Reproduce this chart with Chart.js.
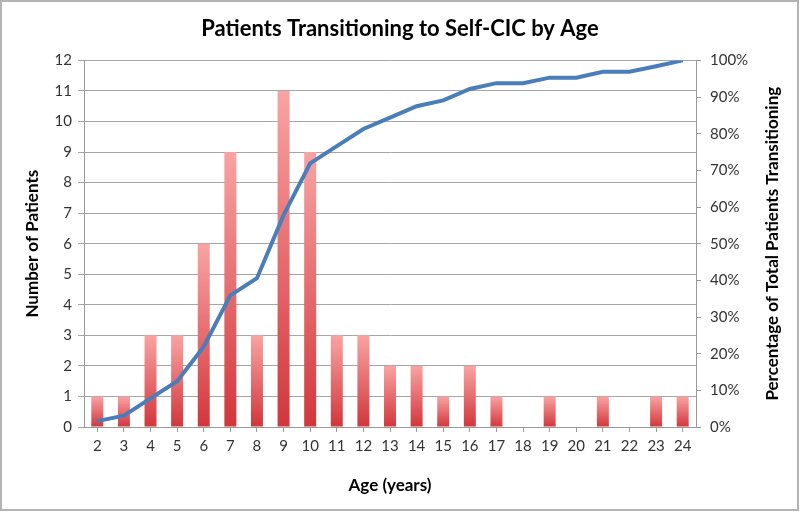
<!DOCTYPE html>
<html>
<head>
<meta charset="utf-8">
<script src="https://cdn.jsdelivr.net/npm/chart.js@4/dist/chart.umd.min.js"></script>
<style>
  html, body { margin: 0; padding: 0; background: #fff; }
  #wrap { width: 800px; height: 513px; position: relative; }
</style>
</head>
<body>
<div id="wrap"><canvas id="chart" width="800" height="513"></canvas></div>
<script>
// data
const ages = ['2', '3', '4', '5', '6', '7', '8', '9', '10', '11', '12', '13', '14', '15', '16', '17', '18', '19', '20', '21', '22', '23', '24'];
const patients = [1, 1, 3, 3, 6, 9, 3, 11, 9, 3, 3, 2, 2, 1, 2, 1, 0, 1, 0, 1, 0, 1, 1];
const cumulativePct = [1.6, 3.1, 7.8, 12.5, 21.9, 35.9, 40.6, 57.8, 71.9, 76.6, 81.3, 84.4, 87.5, 89.1, 92.2, 93.8, 93.8, 95.3, 95.3, 96.9, 96.9, 98.4, 100];
const leftTicks = [0, 1, 2, 3, 4, 5, 6, 7, 8, 9, 10, 11, 12];
const rightTicks = [0, 10, 20, 30, 40, 50, 60, 70, 80, 90, 100];
const rightTitle = 'Percentage of Total Patients Transitioning';

const FONT = 'Lato, "Open Sans", sans-serif';
const ctx = document.getElementById('chart');

// each bar gets its own pink-to-red gradient
function barFill(context) {
    const chart = context.chart;
    const yScale = chart.scales.y;
    if (!chart.chartArea || !yScale || context.parsed == null) return '#e05a5e';
    const top = yScale.getPixelForValue(context.parsed.y);
    const base = yScale.getPixelForValue(0);
    if (!isFinite(top) || top === base) return '#e05a5e';
    const g = chart.ctx.createLinearGradient(0, top, 0, base);
    g.addColorStop(0, '#f9a3a3');
    g.addColorStop(1, '#d2363b');
    return g;
}

// white background, grey frame, and the right axis title read bottom-to-top
const framePlugin = {
    id: 'frame',
    beforeDraw(chart) {
        const c = chart.ctx;
        c.save();
        c.fillStyle = '#fff';
        c.fillRect(0, 0, chart.width, chart.height);
        c.restore();
    },
    afterDraw(chart) {
        const c = chart.ctx;
        const area = chart.chartArea;
        c.save();
        c.translate(773, (area.top + area.bottom) / 2);
        c.rotate(-Math.PI / 2);
        c.fillStyle = '#000';
        c.font = 'bold 17px ' + FONT;
        c.textAlign = 'center';
        c.textBaseline = 'middle';
        c.fillText(rightTitle, 0, 0);
        c.restore();

        c.save();
        c.strokeStyle = '#b4b4b4';
        c.lineWidth = 2;
        c.strokeRect(1, 1, 797, 509);
        c.restore();
    }
};

const config = {
    data: {
        labels: ages,
        datasets: [
            {
                type: 'line',
                label: rightTitle,
                data: cumulativePct,
                yAxisID: 'y2',
                borderColor: '#4a7ebb',
                borderWidth: 4,
                pointRadius: 0,
                tension: 0,
                order: 0,
            },
            {
                type: 'bar',
                label: 'Number of Patients',
                data: patients,
                yAxisID: 'y',
                backgroundColor: barFill,
                barPercentage: 0.9,
                categoryPercentage: 0.5,
                order: 1,
            },
        ]
    },
    options: {
        responsive: false,
        animation: false,
        layout: { padding: 0 },
        plugins: {
            legend: { display: false },
            tooltip: { enabled: false },
            title: {
                display: true,
                text: 'Patients Transitioning to Self-CIC by Age',
                color: '#000',
                font: { family: FONT, size: 22, weight: 'bold' },
                padding: { top: 16, bottom: 18 },
            },
        },
        scales: {
            x: {
                offset: true,
                grid: {
                    offset: false,
                    drawOnChartArea: false,
                    drawTicks: true,
                    tickLength: 5,
                    color: '#999',
                },
                border: { color: '#999' },
                ticks: { color: '#333', font: { family: FONT, size: 15 }, padding: 5 },
                title: {
                    display: true,
                    text: 'Age (years)',
                    color: '#000',
                    font: { family: FONT, size: 17, weight: 'bold' },
                    padding: { top: 10, bottom: 17 },
                },
                afterFit(scale) { scale.height = 86; },
            },
            y: {
                position: 'left',
                min: 0,
                max: 12,
                afterBuildTicks(scale) { scale.ticks = leftTicks.map(v => ({ value: v })); },
                grid: { color: '#a6a6a6', tickLength: 6, lineWidth: 1 },
                border: { color: '#999' },
                ticks: { color: '#333', font: { family: FONT, size: 15 }, padding: 6 },
                title: {
                    display: true,
                    text: 'Number of Patients',
                    color: '#000',
                    font: { family: FONT, size: 17, weight: 'bold' },
                    padding: { top: 22 },
                },
                afterFit(scale) { scale.width = 84; },
            },
            y2: {
                position: 'right',
                min: 0,
                max: 100,
                afterBuildTicks(scale) { scale.ticks = rightTicks.map(v => ({ value: v })); },
                grid: { drawOnChartArea: false, color: '#999', tickLength: 5 },
                border: { color: '#999' },
                ticks: {
                    color: '#333',
                    font: { family: FONT, size: 15 },
                    padding: 9,
                    callback: v => v + '%',
                },
                afterFit(scale) { scale.width = 104; },
            },
        }
    },
    plugins: [framePlugin]
};

new Chart(ctx.getContext('2d'), config);
</script>
</body>
</html>
